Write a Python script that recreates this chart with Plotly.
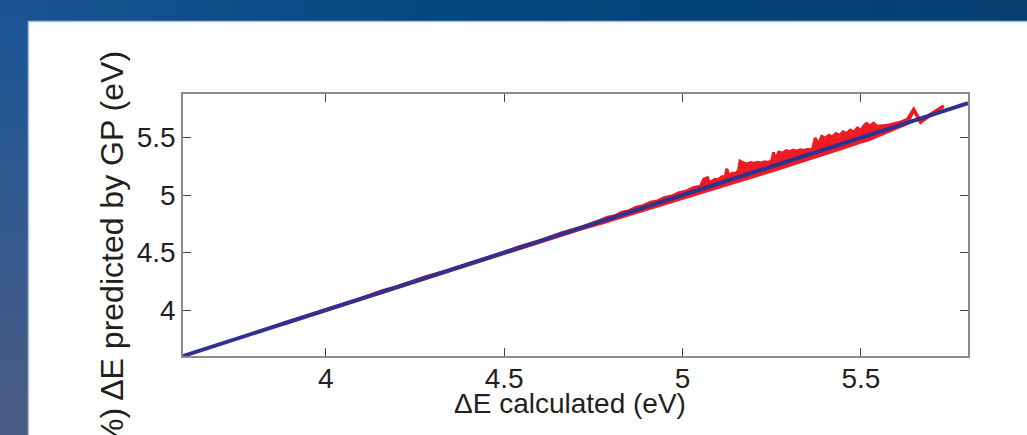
import plotly.graph_objects as go

# ---- data ----
# upper edge of the red (GP prediction) trace
upper_x = [3.88, 3.95, 4.02, 4.10, 4.16, 4.20, 4.28, 4.35, 4.42, 4.50, 4.54, 4.60, 4.66, 4.72,
           4.77, 4.79, 4.81, 4.83, 4.85, 4.87, 4.89, 4.91, 4.93, 4.95, 4.97, 4.99, 5.01, 5.03,
           5.05, 5.06, 5.07, 5.075, 5.09, 5.10, 5.11, 5.12, 5.124, 5.13, 5.14, 5.15, 5.157, 5.161,
           5.17, 5.18, 5.19, 5.20, 5.21, 5.22, 5.23, 5.24, 5.25, 5.255, 5.26, 5.27, 5.28, 5.29,
           5.30, 5.31, 5.32, 5.33, 5.34, 5.35, 5.36, 5.365, 5.372, 5.38, 5.39, 5.40, 5.41, 5.42,
           5.43, 5.44, 5.45, 5.46, 5.47, 5.48, 5.49, 5.50, 5.51, 5.516, 5.525, 5.535, 5.545, 5.555,
           5.57, 5.59, 5.61, 5.63, 5.648, 5.667, 5.70, 5.732]
upper_y = [3.886, 3.954, 4.024, 4.102, 4.170, 4.203, 4.290, 4.352, 4.424, 4.503, 4.550, 4.604, 4.670, 4.726,
           4.782, 4.808, 4.820, 4.852, 4.865, 4.895, 4.908, 4.938, 4.950, 4.980, 4.992, 5.022, 5.034, 5.064,
           5.078, 5.140, 5.152, 5.110, 5.135, 5.135, 5.160, 5.160, 5.229, 5.170, 5.190, 5.190, 5.217, 5.296,
           5.282, 5.270, 5.284, 5.275, 5.286, 5.280, 5.290, 5.285, 5.300, 5.373, 5.310, 5.375, 5.365, 5.388,
           5.378, 5.392, 5.382, 5.395, 5.388, 5.398, 5.392, 5.410, 5.498, 5.440, 5.512, 5.495, 5.522, 5.508,
           5.535, 5.520, 5.550, 5.535, 5.565, 5.548, 5.585, 5.565, 5.610, 5.624, 5.600, 5.625, 5.600, 5.600,
           5.605, 5.620, 5.635, 5.660, 5.750, 5.640, 5.715, 5.778]
# lower edge of the red (GP prediction) trace
lower_x = [3.88, 3.95, 4.02, 4.10, 4.16, 4.20, 4.28, 4.35, 4.42, 4.50, 4.54, 4.60, 4.66, 4.72,
           4.77, 4.85, 4.90, 4.95, 5.00, 5.05, 5.10, 5.15, 5.20, 5.25, 5.30, 5.35, 5.40, 5.45,
           5.50, 5.52, 5.56, 5.60, 5.63, 5.648, 5.667, 5.70, 5.732]
lower_y = [3.876, 3.946, 4.015, 4.096, 4.156, 4.196, 4.275, 4.346, 4.415, 4.496, 4.535, 4.594, 4.652, 4.710,
           4.752, 4.828, 4.872, 4.920, 4.968, 5.018, 5.064, 5.112, 5.162, 5.210, 5.260, 5.308, 5.360, 5.410,
           5.462, 5.480, 5.530, 5.585, 5.622, 5.738, 5.632, 5.708, 5.772]
# ideal y = x reference line
ideal_x = [3.6, 5.8]
ideal_y = [3.6, 5.8]
tick_vals = [4, 4.5, 5, 5.5]
tick_text = ["4", "4.5", "5", "5.5"]

W, H = 1027, 435
L, R, T, B = 183, 968, 94, 356


def px(x):
    return (x - L) / (R - L)


def py(y):
    return (B - y) / (B - T)


def lerp(c1, c2, t):
    a = [int(c1[i:i + 2], 16) for i in (1, 3, 5)]
    b = [int(c2[i:i + 2], 16) for i in (1, 3, 5)]
    return "#%02x%02x%02x" % tuple(round(a[k] + (b[k] - a[k]) * t) for k in range(3))


shapes = []
# top band gradient
n = 40
for i in range(n):
    x0 = W * i / n - 1
    x1 = W * (i + 1) / n + 1
    xc = (x0 + x1) / 2
    if xc < 450:
        col = lerp("#1a5593", "#014880", max(xc, 0) / 450)
    else:
        col = lerp("#014880", "#083f72", (xc - 450) / (W - 450))
    shapes.append(dict(type="rect", xref="paper", yref="paper", x0=px(x0), x1=px(x1),
                       y0=py(21), y1=py(-1), fillcolor=col, line_width=0, layer="above"))
# left band gradient
for i in range(n):
    y0 = 21 + (H - 21) * i / n - 1
    y1 = 21 + (H - 21) * (i + 1) / n + 1
    yc = (y0 + y1) / 2
    if yc < 220:
        col = lerp("#1a5595", "#335a8e", (yc - 21) / 199)
    else:
        col = lerp("#335a8e", "#4a5b82", (yc - 220) / (H - 220))
    shapes.append(dict(type="rect", xref="paper", yref="paper", x0=px(-1), x1=px(28),
                       y0=py(y1), y1=py(y0), fillcolor=col, line_width=0, layer="above"))
# light edge of the white panel
shapes.append(dict(type="line", xref="paper", yref="paper", x0=px(28), x1=px(W + 1),
                   y0=py(21.5), y1=py(21.5), line=dict(color="#a9c2e2", width=1.5), layer="above"))
shapes.append(dict(type="line", xref="paper", yref="paper", x0=px(28.5), x1=px(28.5),
                   y0=py(21), y1=py(H + 1), line=dict(color="#a9c2e2", width=1.5), layer="above"))

RED = "#ed1c24"
fig = go.Figure()
fig.add_trace(go.Scatter(x=lower_x, y=lower_y, mode="lines",
                         line=dict(color=RED, width=3), showlegend=False))
fig.add_trace(go.Scatter(x=upper_x, y=upper_y, mode="lines", fill="tonexty", fillcolor=RED,
                         line=dict(color=RED, width=3), showlegend=False))
fig.add_trace(go.Scatter(x=ideal_x, y=ideal_y, mode="lines",
                         line=dict(color="#2e3192", width=4), showlegend=False))

font_main = dict(family="Liberation Sans, Arial, sans-serif", size=28, color="#231f20")

axis_common = dict(showline=True, linecolor="#8c8c8c", linewidth=1.5, mirror="ticks",
                   ticks="inside", ticklen=8, tickwidth=1, tickcolor="#444444",
                   showgrid=False, zeroline=False, tickfont=font_main,
                   tickvals=tick_vals, ticktext=tick_text)

fig.update_xaxes(range=[3.6, 5.8], ticklabelstandoff=-3, **axis_common)
fig.update_yaxes(range=[3.6, 5.88], **axis_common)

fig.update_layout(
    width=W, height=H,
    margin=dict(l=L, r=W - R, t=T, b=H - B, pad=0),
    paper_bgcolor="white", plot_bgcolor="white",
    shapes=shapes,
    annotations=[
        dict(text="ΔE calculated (eV)", xref="paper", yref="paper",
             x=px(570), y=py(403), xanchor="center", yanchor="middle",
             showarrow=False, font=font_main),
        dict(text="%) ΔE predicted by GP (eV)", xref="paper", yref="paper",
             x=px(112), y=py(49), xanchor="center", yanchor="top", textangle=-90,
             showarrow=False, font=dict(family="Liberation Sans, Arial, sans-serif",
                                        size=32, color="#231f20")),
    ],
)

fig.write_html("out.html", config={"displayModeBar": False},
               post_script="document.body.style.margin='0px';")
